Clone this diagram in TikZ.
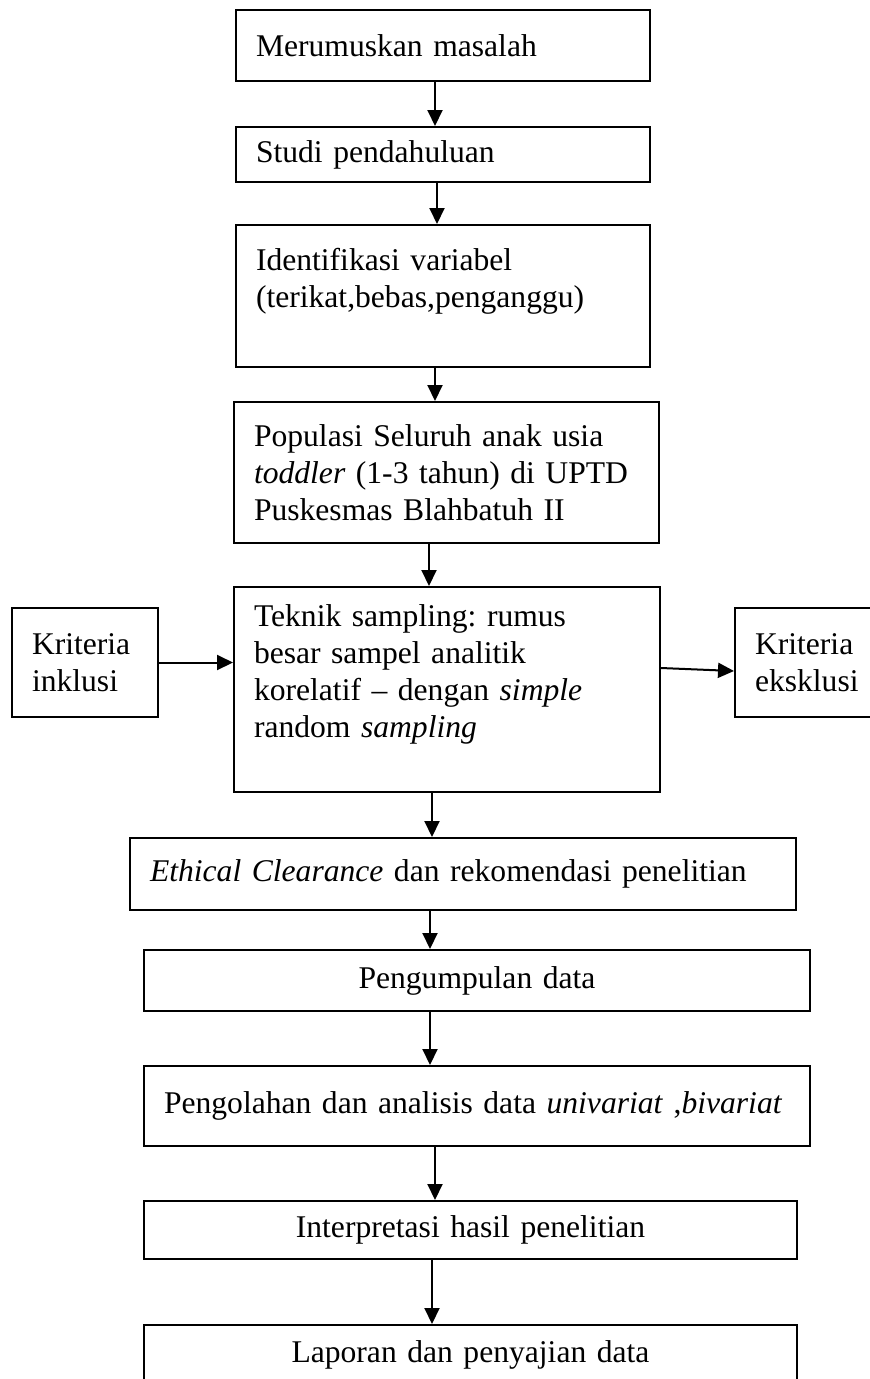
\documentclass[tikz,border=0pt]{standalone}
\usepackage{fontspec}
\setmainfont{Liberation Serif}
\usetikzlibrary{arrows.meta}
\frenchspacing
\tikzset{
    stage/.style={
        rectangle,
        draw=black,
        line width=2pt,
        inner xsep=20pt,
        inner ysep=0pt,
        align=left,
        font=\fontsize{31.6}{37}\selectfont
    },
    flow/.style={
        line width=2pt,
        -{Triangle[length=16pt,width=15pt]}
    }
}
\begin{document}
\begin{tikzpicture}[x=1pt,y=-1pt]

      \useasboundingbox (0,0) rectangle (870,1379);
      \clip (0,0) rectangle (870,1379);

      % main column
      \node[stage, minimum width=414pt, minimum height=71pt, text width=374pt] (masalah) at (443,45.5) {Merumuskan masalah};
      \node[stage, minimum width=414pt, minimum height=55pt, text width=374pt] (studi) at (443,154.5) {Studi pendahuluan};
      \node[stage, minimum width=414pt, minimum height=142pt, text width=374pt] (variabel) at (443,296) {Identifikasi variabel\\(terikat,bebas,penganggu)\\\mbox{}};
      \node[stage, minimum width=425pt, minimum height=141pt, text width=385pt] (populasi) at (446.5,472.5) {Populasi Seluruh anak usia\\\textit{toddler} (1-3 tahun) di UPTD\\Puskesmas Blahbatuh II};
      \node[stage, minimum width=426pt, minimum height=205pt, text width=386pt] (sampling) at (447,689.5) {Teknik sampling: rumus\\besar sampel analitik\\korelatif -- dengan \textit{simple}\\random \textit{sampling}\\\mbox{}};

      % side boxes
      \node[stage, minimum width=146pt, minimum height=109pt, text width=106pt] (inklusi) at (85,662.5) {Kriteria\\inklusi};
      \node[stage, minimum width=150pt, minimum height=109pt, text width=110pt] (eksklusi) at (810,662.5) {Kriteria\\eksklusi};

      \node[stage, minimum width=666pt, minimum height=72pt, text width=626pt] (etik) at (463,874) {\mbox{\textit{Ethical Clearance} dan rekomendasi penelitian}};
      \node[stage, minimum width=666pt, minimum height=61pt, text width=626pt, align=center] (kumpul) at (477,980.5) {Pengumpulan data};
      \node[stage, minimum width=666pt, minimum height=80pt, text width=626pt] (olah) at (477,1106) {\mbox{Pengolahan dan analisis data \textit{univariat} ,\textit{bivariat}}};
      \node[stage, minimum width=653pt, minimum height=58pt, text width=613pt, align=center] (interpretasi) at (470.5,1230) {Interpretasi hasil penelitian};
      \node[stage, minimum width=653pt, minimum height=60pt, text width=613pt, align=center] (laporan) at (470.5,1355) {Laporan dan penyajian data};

      \foreach \a/\b/\x in {masalah/studi/435, studi/variabel/437, variabel/populasi/435,
          populasi/sampling/429, sampling/etik/432, etik/kumpul/430, kumpul/olah/430,
          olah/interpretasi/435, interpretasi/laporan/432}
        \draw[flow] (\a.south -| \x,0) -- (\b.north -| \x,0);

      \draw[flow] (inklusi) -- (inklusi -| sampling.west);
      \draw[flow] (sampling.east |- 0,668) -- (eksklusi.west |- 0,671);

    \end{tikzpicture}
\end{document}
